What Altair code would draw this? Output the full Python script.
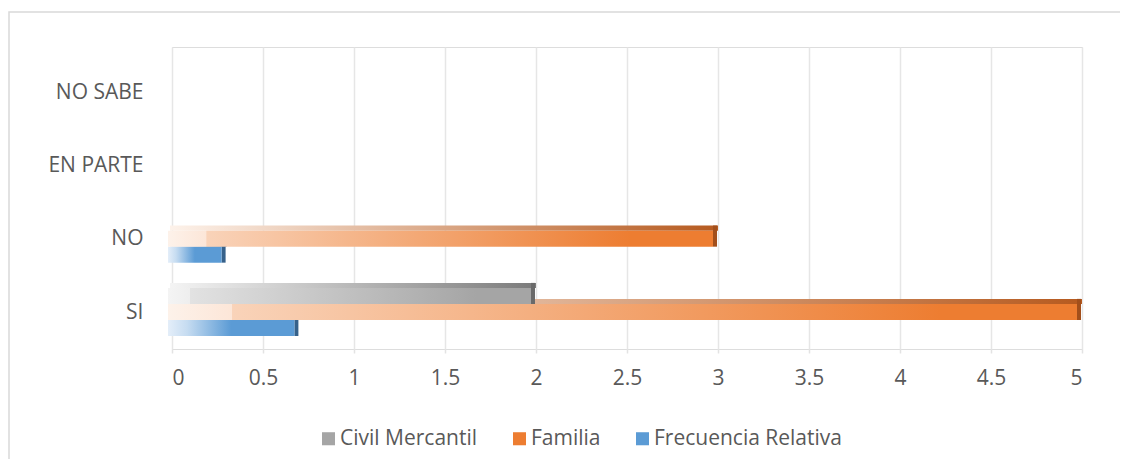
import altair as alt
import pandas as pd

# ---- data ----
categories = ["SI", "NO", "EN PARTE", "NO SABE"]
series = ["Civil Mercantil", "Familia", "Frecuencia Relativa"]
civil_mercantil = [2, 0, 0, 0]
familia = [5, 3, 0, 0]
frecuencia_relativa = [0.7, 0.3, 0, 0]
x_ticks = [0, 0.5, 1, 1.5, 2, 2.5, 3, 3.5, 4, 4.5, 5]

# ---- styling ----
base_colors = ["#a5a5a5", "#ed7d31", "#5b9bd5"]
top_colors = ["#7b7b7b", "#b65a1f", "#3f709e"]
side_colors = ["#6a6a6a", "#a24f1b", "#36618a"]
gradient_stops = [
    [(0, "#f4f4f4"), (0.06, "#eeeeee"), (0.061, "#e2e2e2"), (0.85, "#a5a5a5"), (1, "#a5a5a5")],
    [(0, "#fdf2ea"), (0.07, "#fce6d8"), (0.071, "#f9d3b9"), (0.85, "#ed7d31"), (1, "#ed7d31")],
    [(0, "#e4eef9"), (0.15, "#c6dcf1"), (0.5, "#5b9bd5"), (1, "#5b9bd5")],
]
FONT = "Open Sans"
FS = 21
TXT = "#595959"
BAR = 0.218     # thickness of one series bar, in category-step units
DEPTH = 0.07    # thickness of the 3-D top face, in category-step units

rows = []
for j, (s, vals) in enumerate(zip(series, [civil_mercantil, familia, frecuencia_relativa])):
    for i, (c, v) in enumerate(zip(categories, vals)):
        rows.append({"Respuesta": c, "ci": i, "Serie": s, "sj": j, "Valor": v})
df = pd.DataFrame(rows)

label_expr = "[" + ",".join("'%s'" % c for c in categories) + "][datum.value]"

y_scale = alt.Scale(domain=[-0.5045, 3.614], nice=False, zero=False)
y_axis = alt.Axis(title=None, values=list(range(len(categories))), labelExpr=label_expr,
                  grid=False, domain=False, ticks=False, labelPadding=29,
                  labelFontSize=FS, labelColor=TXT, labelFont=FONT)
x_scale = alt.Scale(domain=[0, 5], nice=False)
x_axis = alt.Axis(title=None, values=x_ticks, format="~g", domain=False,
                  ticks=True, tickColor="#e3e3e3", tickSize=4, tickWidth=1.5,
                  grid=True, gridColor="#e6e6e6", gridWidth=1.5,
                  labelPadding=14, labelFontSize=FS, labelColor=TXT, labelFont=FONT)


def grad(stops_list, dark=None):
    st = [{"offset": o, "color": c} for o, c in stops_list]
    if dark is not None:
        st = [{"offset": 0, "color": st[0]["color"]}, {"offset": 1, "color": dark}]
    return {"gradient": "linear", "x1": 0, "x2": 1, "y1": 0, "y2": 0, "stops": st}


base = alt.Chart(df).transform_calculate(
    yc="datum.ci + (1 - datum.sj) * %f" % BAR,
    ylo="datum.yc - %f" % (BAR / 2),
    yhi="datum.yc + %f" % (BAR / 2),
    ytop="datum.yhi + %f" % DEPTH,
    zero="0",
)

# frame around the whole chart
frame = alt.Chart(pd.DataFrame({"f": [0]})).mark_rect(
    fill="transparent", stroke="#d9d9d9", strokeWidth=1.5
).encode(x=alt.value(-163), x2=alt.value(1200), y=alt.value(-35), y2=alt.value(600))

# zero-width layer that carries the axes and the legend
legend_layer = base.mark_bar().encode(
    x=alt.X("zero:Q", scale=x_scale, axis=x_axis),
    x2="zero:Q",
    y=alt.Y("ylo:Q", scale=y_scale, axis=y_axis),
    y2="yhi:Q",
    color=alt.Color(
        "Serie:N", sort=series,
        scale=alt.Scale(domain=series, range=base_colors),
        legend=alt.Legend(
            title=None, orient="none", direction="horizontal",
            legendX=146, legendY=381, symbolType="square", symbolSize=170,
            symbolStrokeWidth=0, labelFontSize=FS, labelColor=TXT, labelFont=FONT,
            labelOffset=1, columnPadding=31, labelLimit=0,
        ),
    ),
)

layers = [frame, legend_layer]

for i in reversed(range(len(series))):
    s = series[i]
    sub = base.transform_filter(alt.datum.Serie == s).transform_filter(alt.datum.Valor > 0)
    top = sub.mark_rect(color=grad(gradient_stops[i], dark=top_colors[i]),
                        xOffset=-2, x2Offset=0).encode(
        x=alt.X("zero:Q", scale=x_scale, axis=x_axis), x2="Valor:Q",
        y=alt.Y("yhi:Q", scale=y_scale, axis=y_axis), y2="ytop:Q")
    side = sub.mark_rect(color=side_colors[i], xOffset=-5, x2Offset=-1).encode(
        x=alt.X("Valor:Q", scale=x_scale, axis=x_axis), x2="Valor:Q",
        y=alt.Y("ylo:Q", scale=y_scale, axis=y_axis), y2="ytop:Q")
    front = sub.mark_rect(color=grad(gradient_stops[i]), xOffset=-4, x2Offset=-5).encode(
        x=alt.X("zero:Q", scale=x_scale, axis=x_axis), x2="Valor:Q",
        y=alt.Y("ylo:Q", scale=y_scale, axis=y_axis), y2="yhi:Q")
    layers += [top, side, front]

chart = alt.layer(*layers).properties(
    width=910, height=302,
    autosize=alt.AutoSizeParams(type="none"),
    padding={"left": 164, "top": 39, "right": 38, "bottom": 110},
).configure_view(stroke=None).configure(background="white")

chart.save("out.html", embed_options={"renderer": "svg", "actions": False})
